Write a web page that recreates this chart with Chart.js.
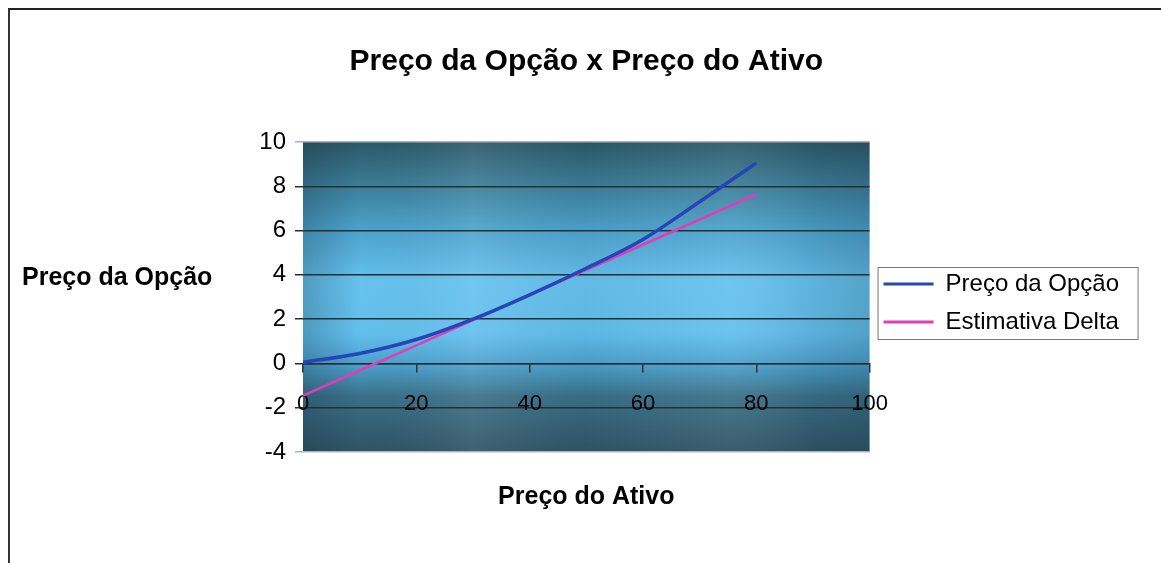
<!DOCTYPE html>
<html>
<head>
<meta charset="utf-8">
<script src="https://cdn.jsdelivr.net/npm/chart.js@4/dist/chart.umd.min.js"></script>
<style>
  html, body { margin: 0; padding: 0; background: #fff; }
  #frame { position: absolute; left: 8px; top: 8px; width: 1160px; height: 560px;
           border-top: 2px solid #222; border-left: 2px solid #333; }
  #wrap { position: absolute; left: 0; top: 0; width: 1161px; height: 563px; }
</style>
</head>
<body>
<div id="frame"></div>
<div id="wrap"><canvas id="grafico" width="1161" height="563"></canvas></div>
<script>
// dados
const precoAtivo = [0, 10, 20, 30, 40, 50, 60, 70, 80];
const precoOpcao = [0.05, 0.45, 1.08, 2.0, 3.1, 4.3, 5.6, 7.3, 9.05];
const estimativaDelta = [-1.45, -0.32, 0.82, 1.96, 3.09, 4.23, 5.36, 6.5, 7.63];
const yTicks = [-4, -2, 0, 2, 4, 6, 8, 10];
const xTicks = [0, 20, 40, 60, 80, 100];

const titulo = 'Preço da Opção x Preço do Ativo';
const tituloY = 'Preço da Opção';
const tituloX = 'Preço do Ativo';

Chart.defaults.font.family = "'Liberation Sans', Arial, sans-serif";
Chart.defaults.color = '#000';

const pts = (ys) => precoAtivo.map((x, i) => ({ x: x, y: ys[i] }));

// fundo azul do grafico (gradiente tipo Excel)
const fundo = {
  id: 'fundo',
  beforeDraw(chart) {
    const { ctx, chartArea: a } = chart;
    ctx.save();
    let g = ctx.createLinearGradient(0, a.top, 0, a.bottom);
    g.addColorStop(0, '#2c5868');
    g.addColorStop(0.12, '#3a7890');
    g.addColorStop(0.28, '#4ca2cc');
    g.addColorStop(0.45, '#66c2ee');
    g.addColorStop(0.62, '#62bfec');
    g.addColorStop(0.72, '#4aa0cc');
    g.addColorStop(0.82, '#3a7088');
    g.addColorStop(1, '#2e5464');
    ctx.fillStyle = g;
    ctx.fillRect(a.left, a.top, a.width, a.height);
    // faixas verticais
    let h = ctx.createLinearGradient(a.left, 0, a.right, 0);
    h.addColorStop(0, 'rgba(20,40,60,0.25)');
    h.addColorStop(0.1, 'rgba(20,40,60,0.0)');
    h.addColorStop(0.3, 'rgba(255,255,255,0.08)');
    h.addColorStop(0.5, 'rgba(20,40,60,0.05)');
    h.addColorStop(0.75, 'rgba(255,255,255,0.06)');
    h.addColorStop(0.9, 'rgba(20,40,60,0.1)');
    h.addColorStop(1, 'rgba(20,40,60,0.2)');
    ctx.fillStyle = h;
    ctx.fillRect(a.left, a.top, a.width, a.height);
    ctx.restore();
  }
};

// titulo do eixo Y na horizontal + moldura da legenda
const extras = {
  id: 'extras',
  afterDraw(chart) {
    const ctx = chart.ctx;
    ctx.save();
    ctx.font = "bold 25px 'Liberation Sans', Arial, sans-serif";
    ctx.fillStyle = '#000';
    ctx.textBaseline = 'middle';
    ctx.fillText(tituloY, 22, 278);
    const lg = chart.legend;
    const hb = lg.legendHitBoxes;
    if (hb && hb.length) {
      const top = hb[0].top - 5;
      const last = hb[hb.length - 1];
      const bottom = last.top + last.height + 5;
      ctx.strokeStyle = '#777';
      ctx.lineWidth = 1;
      ctx.strokeRect(lg.left + 8.5, Math.round(top) + 0.5, 260, Math.round(bottom - top));
    }
    ctx.restore();
  }
};

new Chart(document.getElementById('grafico'), {
  type: 'line',
  data: {
    datasets: [{
      label: 'Preço da Opção',
      data: pts(precoOpcao),
      borderColor: '#2546b4',
      backgroundColor: '#2546b4',
      borderWidth: 3.5,
      pointRadius: 0,
      cubicInterpolationMode: 'monotone',
      fill: false
    }, {
      label: 'Estimativa Delta',
      data: pts(estimativaDelta),
      borderColor: '#e23cb8',
      backgroundColor: '#e23cb8',
      borderWidth: 2.5,
      pointRadius: 0,
      tension: 0,
      fill: false
    }]
  },
  options: {
    responsive: false,
    animation: false,
    layout: { padding: { left: 0, right: 32, top: 0, bottom: 0 } },
    plugins: {
      title: {
        display: true,
        text: titulo,
        fullSize: false,
        font: { size: 30, weight: 'bold' },
        padding: { top: 44, bottom: 62 }
      },
      subtitle: {
        display: true,
        position: 'bottom',
        text: tituloX,
        fullSize: false,
        color: '#000',
        font: { size: 25, weight: 'bold' },
        padding: { top: 30, bottom: 51 }
      },
      legend: {
        position: 'right',
        fullSize: false,
        title: { display: true, text: ' ', font: { size: 10 }, padding: 0 },
        labels: {
          boxWidth: 50,
          boxHeight: 3,
          padding: 14,
          font: { size: 24 },
          generateLabels(chart) {
            return chart.data.datasets.map((ds, i) => ({
              text: ds.label,
              fillStyle: ds.borderColor,
              strokeStyle: ds.borderColor,
              lineWidth: 0,
              hidden: false,
              datasetIndex: i,
              fontColor: '#000'
            }));
          }
        }
      },
      tooltip: { enabled: false }
    },
    scales: {
      x: {
        type: 'linear',
        position: { y: 0 },
        min: 0,
        max: 100,
        afterBuildTicks(scale) { scale.ticks = xTicks.map(v => ({ value: v })); },
        grid: { drawOnChartArea: false, drawTicks: true, tickLength: 8, color: '#2a3238', lineWidth: 1.5 },
        border: { display: true, color: '#2a3238', width: 1.5 },
        ticks: { font: { size: 22 }, padding: 19, maxRotation: 0, color: '#000' }
      },
      y: {
        min: -4,
        max: 10,
        afterBuildTicks(scale) { scale.ticks = yTicks.map(v => ({ value: v })); },
        afterFit(scale) { scale.width = 303; },
        grid: {
          color: (c) => (c.tick && (c.tick.value === 10 || c.tick.value === -4)) ? '#a9b6bc' : '#262e33',
          lineWidth: 1.5,
          tickLength: 8
        },
        border: { display: false },
        ticks: { font: { size: 24 }, padding: 9, color: '#000' }
      }
    }
  },
  plugins: [fundo, extras]
});
</script>
</body>
</html>
